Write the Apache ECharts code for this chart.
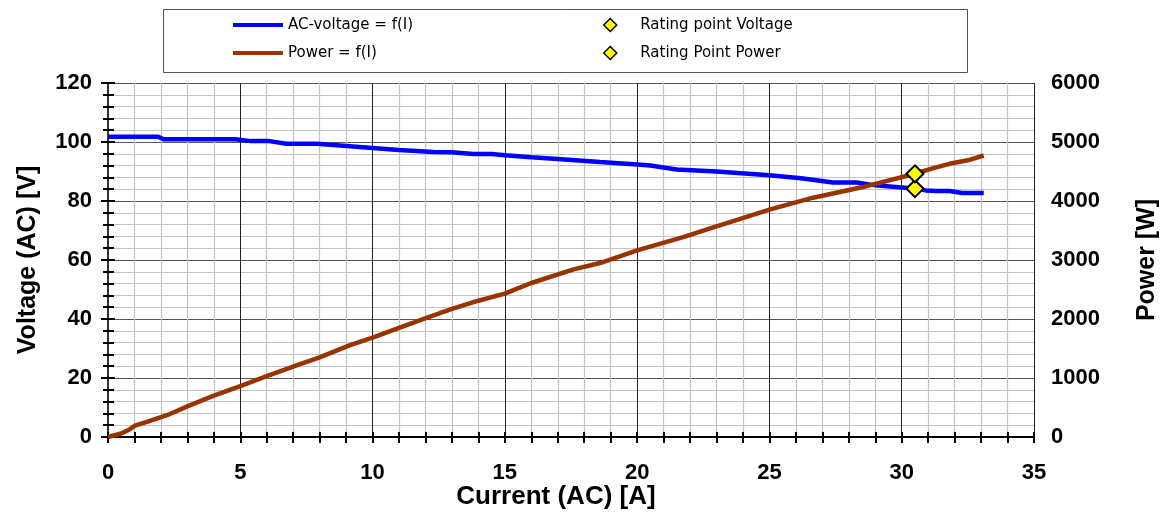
<!DOCTYPE html>
<html>
<head>
<meta charset="utf-8">
<script src="https://cdn.jsdelivr.net/npm/echarts@6/dist/echarts.min.js"></script>
<style>
html,body{margin:0;padding:0;background:#fff;}
#chart{width:1171px;height:513px;}
</style>
</head>
<body>
<div id="chart"></div>
<script>
// ---- data ----
var voltageCurrent = [0, 1.9, 2.1, 4.8, 5.4, 6.1, 6.75, 7.9, 10, 11, 12.3, 13, 13.8, 14.5, 15, 16, 17, 18.6, 20, 20.5, 21.5, 23, 25, 26.2, 27.4, 28.3, 29, 30, 30.5, 30.9, 31.3, 31.8, 32.3, 33.1];
var voltageValues  = [101.8, 101.8, 100.9, 100.9, 100.3, 100.3, 99.4, 99.4, 98.0, 97.3, 96.6, 96.5, 95.9, 95.9, 95.5, 94.8, 94.2, 93.2, 92.4, 92.0, 90.7, 90.0, 88.7, 87.7, 86.3, 86.3, 85.3, 84.6, 84.2, 83.6, 83.4, 83.4, 82.7, 82.7];
var powerCurrent = [0, 0.5, 0.77, 1.02, 1.5, 2.34, 3, 4, 5, 6, 7.26, 8, 9.15, 10, 11, 12.04, 13, 14, 15, 16, 17.6, 18.6, 20, 21.74, 23, 25, 26.65, 28.67, 30.25, 31.2, 31.8, 32.5, 33.1];
var powerValues  = [0, 60, 118, 191, 260, 389, 520, 700, 863, 1030, 1235, 1350, 1556, 1686, 1850, 2018, 2170, 2310, 2431, 2610, 2842, 2949, 3163, 3389, 3570, 3853, 4056, 4251, 4432, 4557, 4630, 4690, 4771];
var ratingCurrent = [30.5];
var ratingVoltage = [84.2];
var ratingPower = [4461];
var seriesNames = ['AC-voltage = f(I)', 'Power = f(I)', 'Rating point Voltage', 'Rating Point Power'];
var axisTitles = { x: 'Current (AC) [A]', yLeft: 'Voltage (AC) [V]', yRight: 'Power [W]' };

function zip(a, b) { return a.map(function (v, i) { return [v, b[i]]; }); }

var FONT = '"Liberation Sans", Arial, sans-serif';
var DIAMOND = 'path://M0,-10L10,0L0,10L-10,0Z';
var chart = echarts.init(document.getElementById('chart'), null, { renderer: 'canvas' });

var labelStyle = { color: '#000', fontFamily: FONT, fontWeight: 'bold', fontSize: 22 };
var legendText = { color: '#000', fontFamily: '"DejaVu Sans", sans-serif', fontSize: 15, lineHeight: 18 };

chart.setOption({
  animation: false,
  backgroundColor: '#fff',
  grid: { left: 108, right: 137, top: 83, bottom: 76, containLabel: false, outerBoundsMode: 'none', show: false },
  graphic: [{
    type: 'rect', left: 163, top: 9, z: 0,
    shape: { width: 804, height: 63 },
    style: { fill: '#fff', stroke: '#555', lineWidth: 1 }
  }],
  legend: [{
    orient: 'vertical', left: 233, top: 16, padding: 0, itemGap: 10, itemWidth: 50, itemHeight: 4,
    textStyle: legendText,
    data: [{ name: seriesNames[0], icon: 'rect' }, { name: seriesNames[1], icon: 'rect' }],
    selectedMode: false
  }, {
    orient: 'vertical', left: 603, top: 16, padding: 0, itemGap: 10, itemWidth: 50, itemHeight: 13,
    symbolKeepAspect: true,
    textStyle: legendText,
    itemStyle: { color: '#ffff00', borderColor: '#000', borderWidth: 1.5 },
    data: [{ name: seriesNames[2], icon: DIAMOND }, { name: seriesNames[3], icon: DIAMOND }],
    selectedMode: false
  }],
  xAxis: [{
    type: 'value', min: 0, max: 35, interval: 5,
    name: axisTitles.x, nameLocation: 'middle', nameGap: 60, nameMoveOverlap: false,
    nameTextStyle: { color: '#000', fontFamily: FONT, fontWeight: 'bold', fontSize: 26, verticalAlign: 'middle', padding: [0, 30, 0, 0] },
    axisLine: { show: true, onZero: false, lineStyle: { color: '#000', width: 2 } },
    axisTick: { show: true, length: 6, lineStyle: { color: '#000', width: 2 } },
    minorTick: { show: true, splitNumber: 5, length: 6, lineStyle: { color: '#000', width: 2 } },
    axisLabel: Object.assign({ margin: 25 }, labelStyle),
    splitLine: { show: true, lineStyle: { color: '#222', width: 1 } },
    minorSplitLine: { show: true, lineStyle: { color: '#c4c4c4', width: 1.2 } }
  }, {
    type: 'value', min: 0, max: 35, interval: 5, position: 'bottom',
    axisLine: { show: false },
    axisTick: { show: true, inside: true, length: 5, lineStyle: { color: '#000', width: 2 } },
    minorTick: { show: true, splitNumber: 5, length: 5, lineStyle: { color: '#000', width: 2 } },
    axisLabel: { show: false }, splitLine: { show: false }
  }],
  yAxis: [{
    type: 'value', min: 0, max: 120, interval: 20, position: 'left',
    name: axisTitles.yLeft, nameLocation: 'middle', nameGap: 67, nameRotate: 90, nameMoveOverlap: false,
    nameTextStyle: { color: '#000', fontFamily: FONT, fontWeight: 'bold', fontSize: 25 },
    axisLine: { show: true, lineStyle: { color: '#000', width: 2 } },
    axisTick: { show: true, length: 7, lineStyle: { color: '#000', width: 2 } },
    minorTick: { show: true, splitNumber: 5, length: 5, lineStyle: { color: '#000', width: 2 } },
    axisLabel: Object.assign({ margin: 16 }, labelStyle),
    splitLine: { show: true, lineStyle: { color: '#555', width: 1 } },
    minorSplitLine: { show: true, lineStyle: { color: '#c4c4c4', width: 1.2 } }
  }, {
    type: 'value', min: 0, max: 6000, interval: 1000, position: 'right',
    name: axisTitles.yRight, nameLocation: 'middle', nameGap: 101, nameRotate: 90, nameMoveOverlap: false,
    nameTextStyle: { color: '#000', fontFamily: FONT, fontWeight: 'bold', fontSize: 25 },
    axisLine: { show: true, lineStyle: { color: '#444', width: 1.5 } },
    axisTick: { show: true, length: 7, lineStyle: { color: '#444', width: 1.5 } },
    axisLabel: Object.assign({ margin: 17, formatter: function (v) { return String(v); } }, labelStyle),
    splitLine: { show: false }
  }, {
    type: 'value', min: 0, max: 120, interval: 20, position: 'left',
    axisLine: { show: false },
    axisTick: { show: true, inside: true, length: 7, lineStyle: { color: '#000', width: 2 } },
    minorTick: { show: true, splitNumber: 5, length: 6, lineStyle: { color: '#000', width: 2 } },
    axisLabel: { show: false }, splitLine: { show: false }
  }],
  series: [{
    name: seriesNames[0], type: 'line', xAxisIndex: 0, yAxisIndex: 0,
    data: zip(voltageCurrent, voltageValues), showSymbol: false, symbol: 'none',
    lineStyle: { color: '#0000ff', width: 4.5 }, itemStyle: { color: '#0000ff' }, z: 3
  }, {
    name: seriesNames[1], type: 'line', xAxisIndex: 0, yAxisIndex: 1,
    data: zip(powerCurrent, powerValues), showSymbol: false, symbol: 'none',
    lineStyle: { color: '#993300', width: 4.5 }, itemStyle: { color: '#993300' }, z: 3
  }, {
    name: seriesNames[2], type: 'scatter', xAxisIndex: 0, yAxisIndex: 0,
    data: zip(ratingCurrent, ratingVoltage), symbol: 'diamond', symbolSize: 17,
    itemStyle: { color: '#ffff00', borderColor: '#000', borderWidth: 2, opacity: 1 }, z: 5
  }, {
    name: seriesNames[3], type: 'scatter', xAxisIndex: 0, yAxisIndex: 1,
    data: zip(ratingCurrent, ratingPower), symbol: 'diamond', symbolSize: 17,
    itemStyle: { color: '#ffff00', borderColor: '#000', borderWidth: 2, opacity: 1 }, z: 5
  }]
});
</script>
</body>
</html>
